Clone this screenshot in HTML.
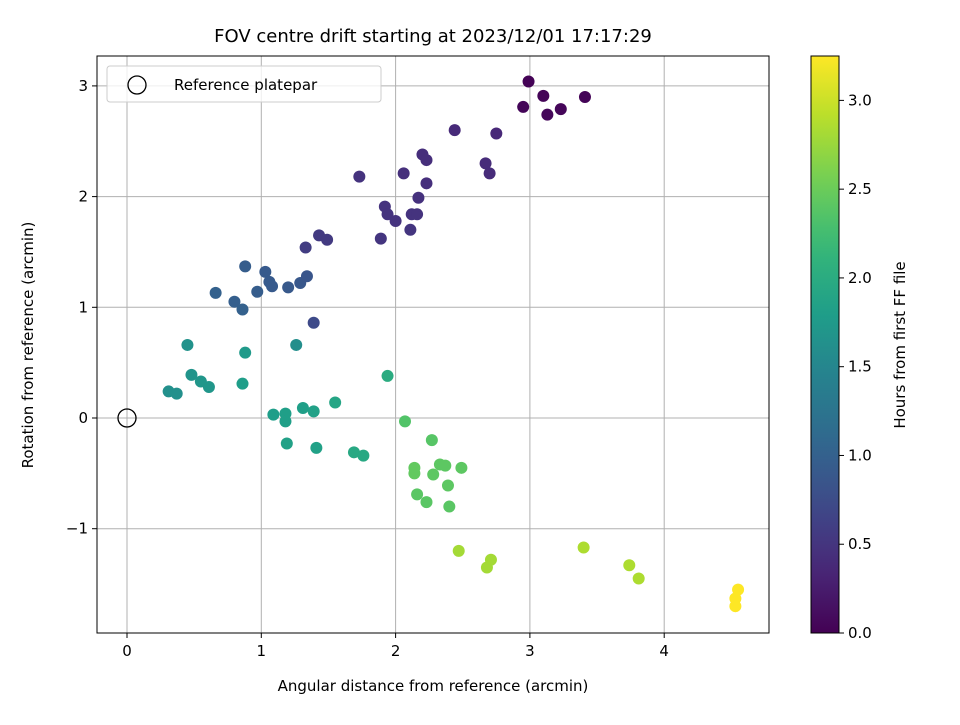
<!DOCTYPE html>
<html><head><meta charset="utf-8"><style>
body{margin:0;background:#fff;font-family:"Liberation Sans","DejaVu Sans",sans-serif}
svg text{font-family:"DejaVu Sans","Liberation Sans",sans-serif}
</style></head><body>
<svg id="c" width="960" height="720" xmlns="http://www.w3.org/2000/svg"></svg>
<script>
const xs=[2.99,3.10,2.95,3.23,3.13,3.41, 2.44,2.75,2.67,2.70,2.20,2.23,2.23,2.06,1.73,2.17,1.92,1.94,2.00,2.12,2.16,2.11,1.89,1.43,1.49,1.33,1.39, 0.88,1.03,0.66,0.80,0.86,0.97,1.06,1.08,1.20,1.29,1.34, 0.45,0.88,1.26,0.31,0.37,0.48,0.55,0.61,0.86,1.09,1.18,1.18,1.19,1.31,1.39,1.41,1.55,1.69,1.76,1.94, 2.07,2.27,2.14,2.14,2.33,2.37,2.49,2.28,2.39,2.16,2.23,2.40, 2.47,2.71,2.68,3.40,3.74,3.81, 4.55,4.53,4.53];
const ys=[3.04,2.91,2.81,2.79,2.74,2.90, 2.60,2.57,2.30,2.21,2.38,2.33,2.12,2.21,2.18,1.99,1.91,1.84,1.78,1.84,1.84,1.70,1.62,1.65,1.61,1.54,0.86, 1.37,1.32,1.13,1.05,0.98,1.14,1.23,1.19,1.18,1.22,1.28, 0.66,0.59,0.66,0.24,0.22,0.39,0.33,0.28,0.31,0.03,0.04,-0.03,-0.23,0.09,0.06,-0.27,0.14,-0.31,-0.34,0.38, -0.03,-0.20,-0.45,-0.50,-0.42,-0.43,-0.45,-0.51,-0.61,-0.69,-0.76,-0.80, -1.20,-1.28,-1.35,-1.17,-1.33,-1.45, -1.55,-1.63,-1.70];
const hours=[0.02,0.03,0.04,0.05,0.06,0.03, 0.38,0.36,0.40,0.40,0.42,0.42,0.44,0.45,0.48,0.46,0.48,0.48,0.48,0.48,0.48,0.50,0.50,0.55,0.55,0.58,0.72, 0.95,0.92,1.0,0.98,1.0,0.95,0.92,0.92,0.9,0.88,0.85, 1.65,1.75,1.6,1.62,1.62,1.68,1.7,1.7,1.8,1.8,1.82,1.82,1.85,1.82,1.85,1.85,1.9,1.95,1.95,2.0, 2.35,2.38,2.45,2.45,2.42,2.42,2.42,2.42,2.42,2.4,2.4,2.4, 2.8,2.8,2.8,2.85,2.85,2.85, 3.25,3.25,3.25];
const xTicks=[0,1,2,3,4];
const yTicks=[-1,0,1,2,3];
const cTicks=[0.0,0.5,1.0,1.5,2.0,2.5,3.0];
const NS="http://www.w3.org/2000/svg",svg=document.getElementById('c');
const X0=97,X1=769,Y0=56,Y1=633;
const xS=v=>127+v*134.3, yS=v=>418-v*110.7;
function el(t,a,p){const e=document.createElementNS(NS,t);for(const k in a)e.setAttribute(k,a[k]);(p||svg).appendChild(e);return e;}
const stops=[[68,1,84],[72,40,120],[62,74,137],[49,104,142],[38,130,142],[31,158,137],[53,183,121],[110,206,88],[181,222,43],[253,231,37]];
function vir(t){t=Math.max(0,Math.min(1,t))*(stops.length-1);const i=Math.min(Math.floor(t),stops.length-2),f=t-i;const a=stops[i],b=stops[i+1];return `rgb(${a.map((v,k)=>Math.round(v+(b[k]-v)*f)).join(',')})`;}
const HMAX=3.25;
xTicks.forEach(v=>{const g=el('line',{x1:xS(v),x2:xS(v),y1:Y0,y2:Y1,stroke:'#b0b0b0','stroke-width':1});
const t=el('line',{x1:xS(v),x2:xS(v),y1:Y1,y2:Y1+5,stroke:'#000'});
const l=el('text',{x:xS(v),y:Y1+23,'text-anchor':'middle','font-size':15});l.textContent=v;});
yTicks.forEach(v=>{const g=el('line',{x1:X0,x2:X1,y1:yS(v),y2:yS(v),stroke:'#b0b0b0','stroke-width':1});
const t=el('line',{x1:X0-5,x2:X0,y1:yS(v),y2:yS(v),stroke:'#000'});
const l=el('text',{x:X0-9,y:yS(v)+5,'text-anchor':'end','font-size':15});l.textContent=v<0?'\u2212'+(-v):v;});
xs.forEach((x,i)=>{const c=el('circle',{cx:xS(x),cy:yS(ys[i]),r:6,fill:vir(hours[i]/HMAX)});});
const ref=el('circle',{cx:xS(0),cy:yS(0),r:9,fill:'none',stroke:'#000','stroke-width':1.3});
const fr=el('rect',{x:X0,y:Y0,width:X1-X0,height:Y1-Y0,fill:'none',stroke:'#000'});
const lg=el('g',{});
el('rect',{x:107,y:66,width:274,height:36,rx:3,fill:'#fff','fill-opacity':0.8,stroke:'#ccc'},lg);
el('circle',{cx:137,cy:85,r:9,fill:'none',stroke:'#000','stroke-width':1.3},lg);
const lt=el('text',{x:174,y:90,'font-size':15},lg);lt.textContent='Reference platepar';
const defs=el('defs',{});const gr=el('linearGradient',{id:'vg',x1:0,y1:1,x2:0,y2:0},defs);
for(let i=0;i<=20;i++)el('stop',{offset:i/20,'stop-color':vir(i/20)},gr);
const cb=el('rect',{x:811,y:Y0,width:28,height:Y1-Y0,fill:'url(#vg)',stroke:'#000'});
const cS=v=>Y1-v/HMAX*(Y1-Y0);
cTicks.forEach(v=>{el('line',{x1:839,x2:844,y1:cS(v),y2:cS(v),stroke:'#000'});const l=el('text',{x:848,y:cS(v)+5,'font-size':15});l.textContent=v.toFixed(1);});
function txt(s,a,n){const t=el('text',a);t.textContent=s;}
txt('FOV centre drift starting at 2023/12/01 17:17:29',{x:433,y:42,'text-anchor':'middle','font-size':18},'chart-title');
txt('Angular distance from reference (arcmin)',{x:433,y:691,'text-anchor':'middle','font-size':15},'x-axis-title');
txt('Rotation from reference (arcmin)',{x:33,y:345,'text-anchor':'middle','font-size':15,transform:'rotate(-90 33 345)'},'y-axis-title');
txt('Hours from first FF file',{x:905,y:345,'text-anchor':'middle','font-size':15,transform:'rotate(-90 905 345)'},'colorbar-title');
</script></body></html>
